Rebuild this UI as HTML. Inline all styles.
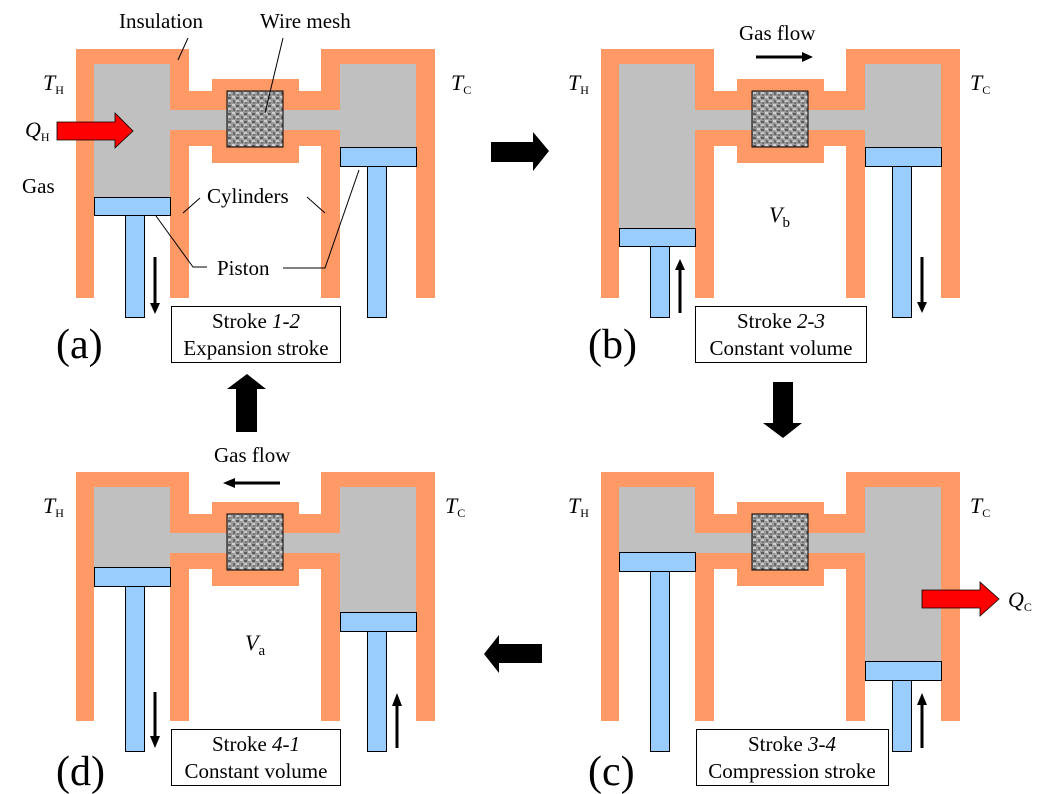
<!DOCTYPE html>
<html><head><meta charset="utf-8"><style>
html,body{margin:0;padding:0;background:#fff;}
svg{display:block;font-family:"Liberation Serif","DejaVu Serif",serif;}
svg text{font-family:"Liberation Serif","DejaVu Serif",serif;fill:#000;}
</style></head><body>
<svg width="1058" height="794" viewBox="0 0 1058 794" xmlns="http://www.w3.org/2000/svg" font-family="Liberation Serif, DejaVu Serif, serif">
<defs>
<pattern id="mesh" width="8" height="8" patternUnits="userSpaceOnUse">
<rect width="8" height="8" fill="#9a9a9a"/>
<rect x="0" y="0" width="3" height="2" fill="#d0d0d0"/>
<rect x="4" y="1" width="3" height="2" fill="#5a5a5a"/>
<rect x="1" y="4" width="2" height="3" fill="#6a6a6a"/>
<rect x="4" y="4" width="3" height="2" fill="#c8c8c8"/>
<rect x="5" y="6" width="2" height="2" fill="#777"/>
<rect x="2" y="2" width="2" height="2" fill="#b0b0b0"/>
</pattern>
<g id="body">
<rect x="76" y="49" width="113" height="249" fill="#ff9966"/>
<rect x="321" y="49" width="114" height="249" fill="#ff9966"/>
<rect x="189" y="91" width="132" height="55" fill="#ff9966"/>
<rect x="212" y="79" width="87" height="84" fill="#ff9966"/>
<rect x="94" y="64" width="76" height="240" fill="#fff"/>
<rect x="340" y="64" width="76" height="240" fill="#fff"/>
<rect x="170" y="110" width="170" height="20" fill="#c0c0c0"/>
<rect x="227" y="91" width="56" height="56" fill="url(#mesh)" stroke="#000" stroke-width="1"/>
</g>
</defs>

<!-- Panel a -->
<g>
<use href="#body"/>
<rect x="94" y="64" width="76" height="133" fill="#c0c0c0"/>
<rect x="340" y="64" width="76" height="83" fill="#c0c0c0"/>
<rect x="94.5" y="197.5" width="76" height="18" fill="#99ccff" stroke="#000"/>
<rect x="125.5" y="215.5" width="19" height="102" fill="#99ccff" stroke="#000"/>
<rect x="340.5" y="147.5" width="76" height="19" fill="#99ccff" stroke="#000"/>
<rect x="367.5" y="166.5" width="19" height="151" fill="#99ccff" stroke="#000"/>
<line x1="155" y1="257" x2="155" y2="304" stroke="#000" stroke-width="3"/>
<path d="M150,303 L160,303 L155,314 z" fill="#000"/>
</g>
<!-- Panel b -->
<g transform="translate(525,0)">
<use href="#body"/>
<rect x="94" y="64" width="76" height="164" fill="#c0c0c0"/>
<rect x="340" y="64" width="76" height="83" fill="#c0c0c0"/>
<rect x="94.5" y="228.5" width="76" height="18" fill="#99ccff" stroke="#000"/>
<rect x="125.5" y="246.5" width="19" height="71" fill="#99ccff" stroke="#000"/>
<rect x="340.5" y="147.5" width="76" height="19" fill="#99ccff" stroke="#000"/>
<rect x="367.5" y="166.5" width="19" height="151" fill="#99ccff" stroke="#000"/>
<line x1="155" y1="313" x2="155" y2="268" stroke="#000" stroke-width="3"/>
<path d="M150,270 L160,270 L155,259 z" fill="#000"/>
<line x1="397" y1="257" x2="397" y2="304" stroke="#000" stroke-width="3"/>
<path d="M392,302 L402,302 L397,313 z" fill="#000"/>
</g>
<!-- Panel c -->
<g transform="translate(525,423)">
<use href="#body"/>
<rect x="94" y="64" width="76" height="65" fill="#c0c0c0"/>
<rect x="340" y="64" width="76" height="174" fill="#c0c0c0"/>
<rect x="94.5" y="129.5" width="76" height="19" fill="#99ccff" stroke="#000"/>
<rect x="125.5" y="148.5" width="19" height="180" fill="#99ccff" stroke="#000"/>
<rect x="340.5" y="238.5" width="76" height="19" fill="#99ccff" stroke="#000"/>
<rect x="367.5" y="257.5" width="19" height="71" fill="#99ccff" stroke="#000"/>
<line x1="397" y1="325" x2="397" y2="280" stroke="#000" stroke-width="3"/>
<path d="M392,282 L402,282 L397,270 z" fill="#000"/>
</g>
<!-- Panel d -->
<g transform="translate(0,423)">
<use href="#body"/>
<rect x="94" y="64" width="76" height="80" fill="#c0c0c0"/>
<rect x="340" y="64" width="76" height="125" fill="#c0c0c0"/>
<rect x="94.5" y="144.5" width="76" height="19" fill="#99ccff" stroke="#000"/>
<rect x="125.5" y="163.5" width="19" height="165" fill="#99ccff" stroke="#000"/>
<rect x="340.5" y="189.5" width="76" height="19" fill="#99ccff" stroke="#000"/>
<rect x="367.5" y="208.5" width="19" height="120" fill="#99ccff" stroke="#000"/>
<line x1="155" y1="269" x2="155" y2="315" stroke="#000" stroke-width="3"/>
<path d="M150,313 L160,313 L155,325 z" fill="#000"/>
<line x1="397" y1="325" x2="397" y2="281" stroke="#000" stroke-width="3"/>
<path d="M392,283 L402,283 L397,270 z" fill="#000"/>
</g>

<!-- heat arrows -->
<path d="M57,122 L115,122 L115,113 L133,131 L115,148 L115,140 L57,140 z" fill="#ff0000" stroke="#000" stroke-width="0.8"/>
<path d="M922,590 L980,590 L980,582 L999,599 L980,616 L980,608 L922,608 z" fill="#ff0000" stroke="#000" stroke-width="0.8"/>

<!-- big arrows -->
<path d="M491,142 L533,142 L533,132 L549,151 L533,171 L533,162 L491,162 z" fill="#000"/>
<path d="M773,382 L793,382 L793,423 L802,423 L783,438 L763,423 L773,423 z" fill="#000"/>
<path d="M542,644 L499,644 L499,635 L484,654 L499,673 L499,663 L542,663 z" fill="#000"/>
<path d="M236,432 L257,432 L257,389 L266,389 L247,374 L227,389 L236,389 z" fill="#000"/>

<!-- gas flow arrows -->
<line x1="756" y1="57" x2="804" y2="57" stroke="#000" stroke-width="3"/>
<path d="M802,52 L813,57 L802,62 z" fill="#000"/>
<line x1="280" y1="483" x2="233" y2="483" stroke="#000" stroke-width="3"/>
<path d="M235,478 L223,483 L235,488 z" fill="#000"/>

<!-- leader lines -->
<g stroke="#000" stroke-width="1" fill="none">
<line x1="188" y1="38" x2="178" y2="60"/>
<line x1="283" y1="38" x2="265" y2="113"/>
<line x1="200" y1="198" x2="183" y2="213"/>
<line x1="307" y1="197" x2="325" y2="213"/>
<polyline points="156,216 193,267 207,267"/>
<polyline points="283,268 325,268 359,170"/>
</g>

<!-- stroke boxes -->
<rect x="171.5" y="306.5" width="169" height="56" fill="#fff" stroke="#000"/>
<rect x="695.5" y="306.5" width="171" height="56" fill="#fff" stroke="#000"/>
<rect x="171.5" y="729.5" width="169" height="56" fill="#fff" stroke="#000"/>
<rect x="696.5" y="729.5" width="192" height="56" fill="#fff" stroke="#000"/>

<g font-size="21" text-anchor="middle" font-family="Liberation Serif, DejaVu Serif, serif">
<text x="256" y="328">Stroke <tspan font-style="italic">1-2</tspan></text>
<text x="256" y="355">Expansion stroke</text>
<text x="781" y="328">Stroke <tspan font-style="italic">2-3</tspan></text>
<text x="781" y="355">Constant volume</text>
<text x="256" y="751">Stroke <tspan font-style="italic">4-1</tspan></text>
<text x="256" y="778">Constant volume</text>
<text x="792" y="751">Stroke <tspan font-style="italic">3-4</tspan></text>
<text x="792" y="778">Compression stroke</text>
</g>

<g font-size="21" font-family="Liberation Serif, DejaVu Serif, serif">
<text x="119" y="28">Insulation</text>
<text x="260" y="28">Wire mesh</text>
<text x="207" y="203">Cylinders</text>
<text x="217" y="275">Piston</text>
<text x="22" y="193">Gas</text>
<text x="739" y="40">Gas flow</text>
<text x="214" y="462">Gas flow</text>
</g>

<g font-size="42" font-family="Liberation Serif, DejaVu Serif, serif">
<text x="56" y="358">(a)</text>
<text x="588" y="358">(b)</text>
<text x="56" y="785">(d)</text>
<text x="588" y="785">(c)</text>
</g>

<g font-size="22" font-family="Liberation Serif, DejaVu Serif, serif">
<text x="43" y="90"><tspan font-style="italic">T</tspan><tspan font-size="12" dy="4">H</tspan></text>
<text x="451" y="90"><tspan font-style="italic">T</tspan><tspan font-size="12" dy="4">C</tspan></text>
<text x="568" y="90"><tspan font-style="italic">T</tspan><tspan font-size="12" dy="4">H</tspan></text>
<text x="970" y="90"><tspan font-style="italic">T</tspan><tspan font-size="12" dy="4">C</tspan></text>
<text x="43" y="513"><tspan font-style="italic">T</tspan><tspan font-size="12" dy="4">H</tspan></text>
<text x="445" y="513"><tspan font-style="italic">T</tspan><tspan font-size="12" dy="4">C</tspan></text>
<text x="568" y="513"><tspan font-style="italic">T</tspan><tspan font-size="12" dy="4">H</tspan></text>
<text x="970" y="513"><tspan font-style="italic">T</tspan><tspan font-size="12" dy="4">C</tspan></text>
<text x="25" y="137"><tspan font-style="italic">Q</tspan><tspan font-size="12" dy="4">H</tspan></text>
<text x="1008" y="607"><tspan font-style="italic">Q</tspan><tspan font-size="12" dy="4">C</tspan></text>
<text x="769" y="222"><tspan font-style="italic">V</tspan><tspan font-size="15" dy="5">b</tspan></text>
<text x="245" y="650"><tspan font-style="italic">V</tspan><tspan font-size="15" dy="5">a</tspan></text>
</g>
</svg>
</body></html>
